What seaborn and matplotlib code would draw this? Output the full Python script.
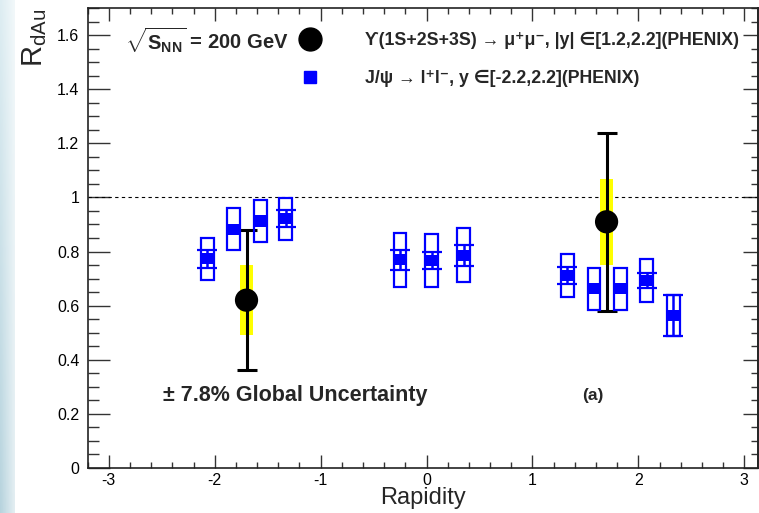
import numpy as np
import matplotlib
matplotlib.use("Agg")
import matplotlib.pyplot as plt
from matplotlib.lines import Line2D
from matplotlib.ticker import MultipleLocator
import seaborn as sns

# Upsilon (PHENIX, forward/backward)
ups_y = [-1.70, 1.70]
ups_r = [0.62, 0.91]
ups_stat_lo = [0.36, 0.58]
ups_stat_hi = [0.88, 1.24]
ups_sys_lo = [0.49, 0.75]
ups_sys_hi = [0.75, 1.07]

# J/psi (PHENIX)
jpsi_y = [-2.07, -1.82, -1.57, -1.33, -0.25, 0.05, 0.35, 1.33, 1.58, 1.83, 2.08, 2.33]
jpsi_r = [0.773, 0.880, 0.913, 0.923, 0.771, 0.768, 0.786, 0.712, 0.663, 0.663, 0.693, 0.563]
jpsi_stat_lo = [0.739, 0.880, 0.913, 0.892, 0.731, 0.735, 0.747, 0.681, 0.663, 0.663, 0.665, 0.488]
jpsi_stat_hi = [0.807, 0.880, 0.913, 0.953, 0.807, 0.800, 0.824, 0.743, 0.663, 0.663, 0.720, 0.640]
jpsi_sys_lo = [0.693, 0.805, 0.834, 0.844, 0.668, 0.668, 0.687, 0.632, 0.583, 0.583, 0.615, 0.488]
jpsi_sys_hi = [0.851, 0.961, 0.990, 0.999, 0.867, 0.864, 0.887, 0.792, 0.740, 0.740, 0.772, 0.640]

ups_label = "ϒ(1S+2S+3S) → μ⁺μ⁻, |y| ∈[1.2,2.2](PHENIX)"
jpsi_label = "J/ψ → l⁺l⁻, y ∈[-2.2,2.2](PHENIX)"

FAMILY = ['Liberation Sans', 'DejaVu Sans']

sns.set_theme(style="ticks")
plt.rcParams['font.family'] = FAMILY
plt.rcParams['mathtext.fontset'] = 'custom'
plt.rcParams['mathtext.rm'] = 'Liberation Sans'
plt.rcParams['mathtext.it'] = 'Liberation Sans:italic'
plt.rcParams['mathtext.bf'] = 'Liberation Sans:bold'

fig = plt.figure(figsize=(7.59, 5.13), dpi=100)

# light blue strip on the left edge
bg = fig.add_axes([0, 0, 15 / 759, 1])
grad = np.linspace(0, 1, 100)[:, None] * np.ones((1, 10))
fade = np.linspace(0, 0.6, 10)[None, :]
top = np.array([0.87, 0.93, 0.95])
bot = np.array([0.72, 0.83, 0.87])
img = top[None, None, :] * (1 - grad[..., None]) + bot[None, None, :] * grad[..., None]
img = img * (1 - fade[..., None]) + fade[..., None]
bg.imshow(img, aspect='auto')
bg.axis('off')

ax = fig.add_axes([0.1155, 0.0883, 0.8832, 0.8955])

# reference line
ax.axhline(1.0, color='black', lw=0.8, ls=(0, (3, 3)), zorder=1)

# Upsilon systematic boxes and stat errors
ups_y_a = np.array(ups_y)
ax.bar(ups_y_a, np.array(ups_sys_hi) - np.array(ups_sys_lo), bottom=ups_sys_lo,
       width=0.13, color='#ffff00', zorder=2, linewidth=0)
ax.errorbar(ups_y_a, ups_r,
            yerr=[np.array(ups_r) - np.array(ups_stat_lo), np.array(ups_stat_hi) - np.array(ups_r)],
            fmt='none', ecolor='black', elinewidth=2.2, capsize=7, capthick=2.2, zorder=3)

# J/psi systematic boxes and stat errors
jy = np.array(jpsi_y)
jr = np.array(jpsi_r)
jlo = np.array(jpsi_stat_lo)
jhi = np.array(jpsi_stat_hi)
ax.bar(jy, np.array(jpsi_sys_hi) - np.array(jpsi_sys_lo), bottom=jpsi_sys_lo,
       width=0.12, fill=False, edgecolor='#0000ff', linewidth=1.6, zorder=3)
has_err = jhi > jlo
ax.errorbar(jy[has_err], jr[has_err], yerr=[jr[has_err] - jlo[has_err], jhi[has_err] - jr[has_err]],
            fmt='none', ecolor='#0000ff', elinewidth=1.8, capsize=7, capthick=1.6, zorder=4)

sns.scatterplot(x=jy, y=jr, marker='s', s=64, color='#0000ff', edgecolor='none', ax=ax, zorder=5)
sns.scatterplot(x=ups_y_a, y=ups_r, marker='o', s=280, color='black', edgecolor='none', ax=ax, zorder=6)

ax.set_xlim(-3.2, 3.13)
ax.set_ylim(0, 1.7)
ax.xaxis.set_minor_locator(MultipleLocator(0.2))
ax.yaxis.set_minor_locator(MultipleLocator(0.05))
ax.set_yticks(np.arange(0, 1.61, 0.2))
ax.set_yticklabels(['0', '0.2', '0.4', '0.6', '0.8', '1', '1.2', '1.4', '1.6'])
ax.set_xticks([-3, -2, -1, 0, 1, 2, 3])
ax.set_xticklabels(['-3', '-2', '-1', '0', '1', '2', '3'])

for s in ax.spines.values():
    s.set_visible(True)
    s.set_color('#222222')
    s.set_linewidth(1.2)

ax.tick_params(axis='both', which='both', direction='in', color='#333333', width=1.0,
               labelsize=11.5, labelcolor='black', pad=6)
ax.tick_params(axis='x', which='both', pad=3.5)
ax.tick_params(axis='y', which='major', length=15.5)
ax.tick_params(axis='y', which='minor', length=8)
ax.tick_params(axis='x', which='major', length=9.5, top=True)
ax.tick_params(axis='x', which='minor', length=4.5, top=True)

sec = ax.secondary_yaxis('right')
sec.yaxis.set_major_locator(MultipleLocator(0.2))
sec.yaxis.set_minor_locator(MultipleLocator(0.05))
sec.tick_params(axis='y', which='major', direction='in', length=11, width=1.0, color='#333333', labelright=False)
sec.tick_params(axis='y', which='minor', direction='in', length=5, width=1.0, color='#333333')
sec.spines['right'].set_linewidth(1.2)

ax.set_xlabel("Rapidity", fontsize=17, labelpad=-0.5)
ax.set_ylabel(r"R$_{\mathrm{dAu}}$", fontsize=21, loc='top')
ax.yaxis.set_label_coords(-0.058, 1.0)

ax.text(0.056, 0.931, r"$\sqrt{\mathbf{S}_{\mathbf{NN}}}$ = 200 GeV", transform=ax.transAxes,
        fontsize=14.5, fontweight='bold', va='center', ha='left')
ax.text(0.1125, 0.158, "± 7.8% Global Uncertainty", transform=ax.transAxes,
        fontsize=15.5, fontweight='bold', va='center', ha='left')
ax.text(0.737, 0.158, "(a)", transform=ax.transAxes,
        fontsize=12.5, fontweight='bold', va='center', ha='left')

handles = [
    Line2D([], [], marker='o', color='black', markersize=16.5, linestyle='None'),
    Line2D([], [], marker='s', color='#0000ff', markersize=8, linestyle='None'),
]
ax.legend(handles, [ups_label, jpsi_label], loc='upper left', bbox_to_anchor=(0.308, 0.948),
          frameon=False, prop={'family': FAMILY, 'weight': 'bold', 'size': 12.8}, handlelength=1.8,
          handletextpad=2.2, labelspacing=1.15, borderpad=0, borderaxespad=0)

fig.savefig("out.png", dpi=100)
